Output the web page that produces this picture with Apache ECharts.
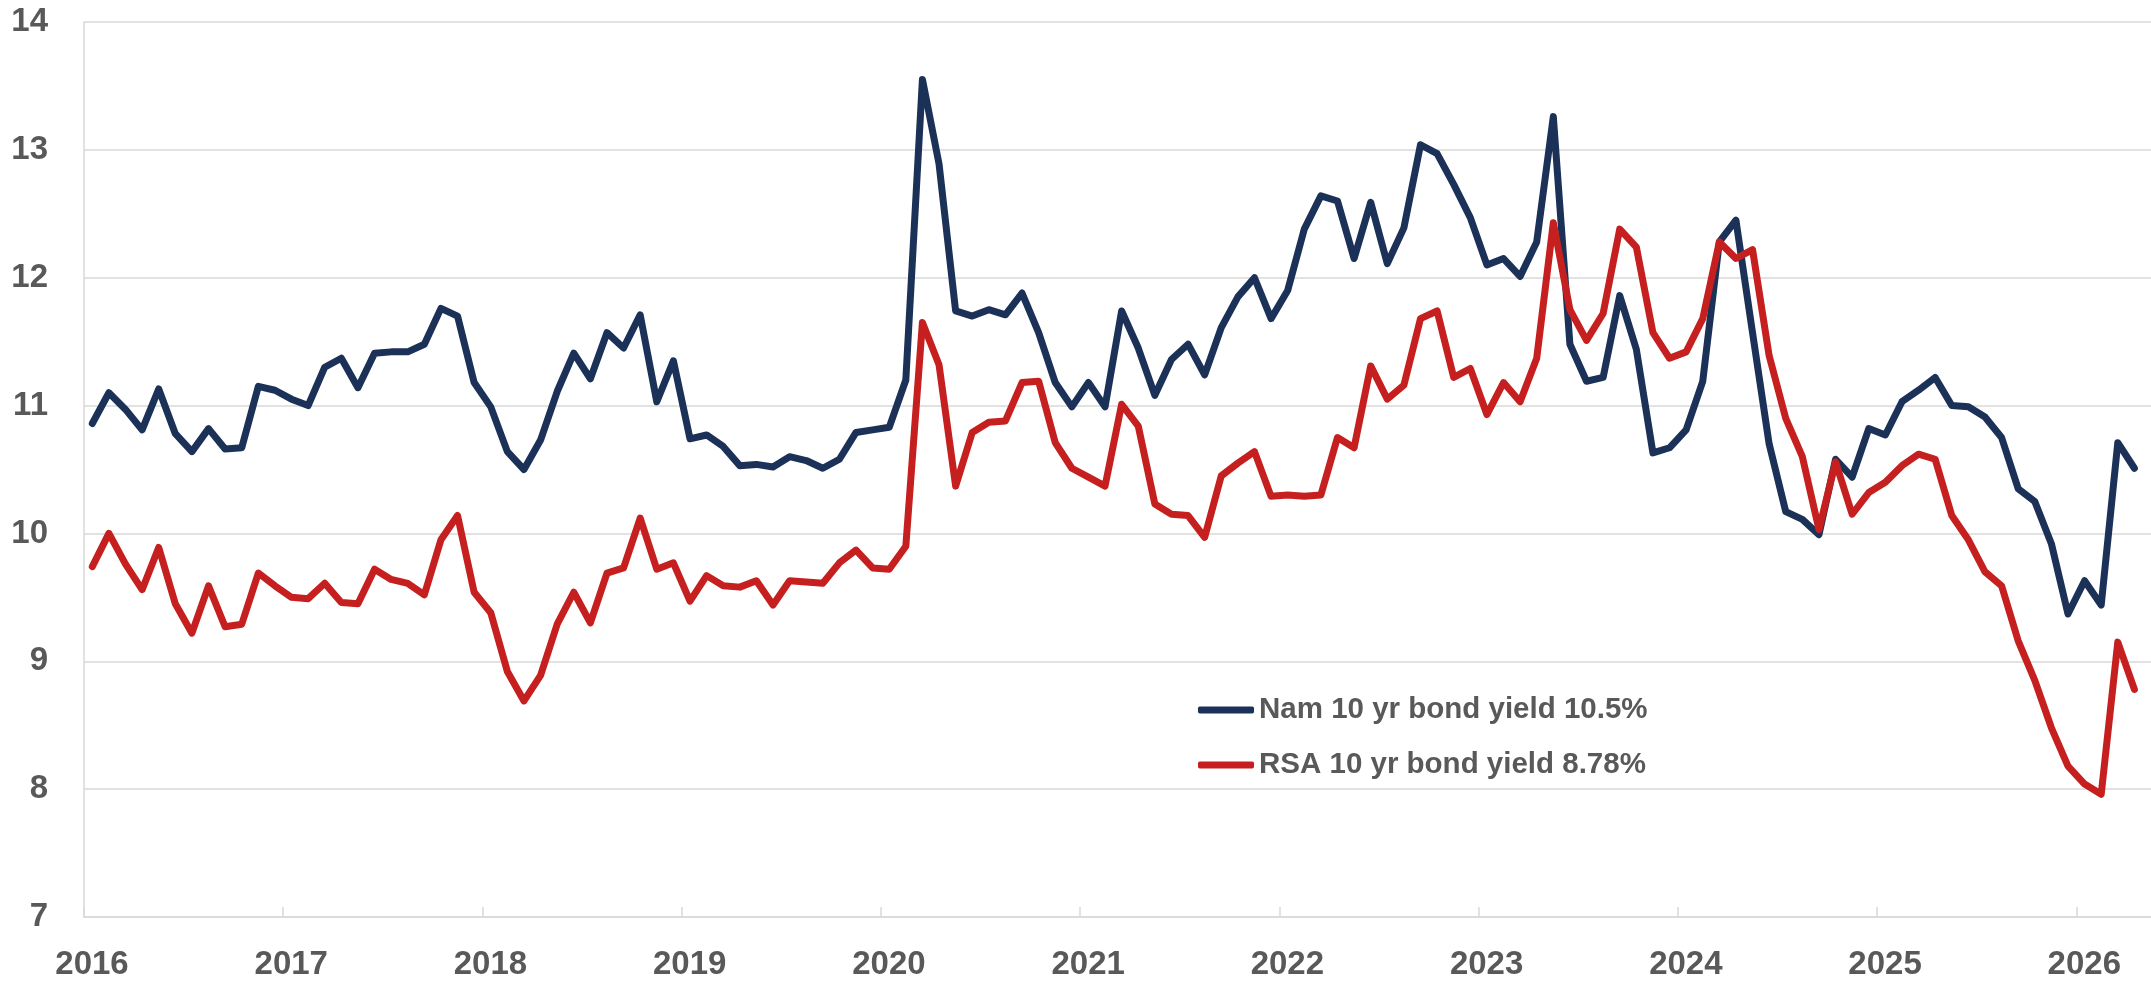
<!DOCTYPE html>
<html>
<head>
<meta charset="utf-8">
<title>Nam vs RSA 10 yr bond yield</title>
<script src="https://cdn.jsdelivr.net/npm/echarts@6/dist/echarts.min.js"></script>
<style>
  html, body { margin: 0; padding: 0; background: #fff; }
  #myCharts { width: 2151px; height: 982px; }
</style>
</head>
<body>
<div id="myCharts"></div>
<script>
// 年份刻度 (one label per January)
var years = ['2016', '2017', '2018', '2019', '2020', '2021', '2022', '2023', '2024', '2025', '2026']
// monthly yields, Jan 2016 .. Apr 2026
var namYield = [
  10.86, 11.10, 10.97, 10.81, 11.13, 10.78, 10.64, 10.82, 10.66, 10.67, 11.15, 11.12,
  11.05, 11.00, 11.30, 11.37, 11.14, 11.41, 11.42, 11.42, 11.48, 11.76, 11.70, 11.18,
  10.99, 10.64, 10.50, 10.73, 11.11, 11.41, 11.21, 11.57, 11.45, 11.71, 11.03, 11.35,
  10.74, 10.77, 10.68, 10.53, 10.54, 10.52, 10.60, 10.57, 10.51, 10.58, 10.79, 10.81,
  10.83, 11.20, 13.55, 12.89, 11.74, 11.70, 11.75, 11.71, 11.88, 11.57, 11.18, 10.99,
  11.18, 10.99, 11.74, 11.45, 11.08, 11.36, 11.48, 11.24, 11.61, 11.85, 12.00, 11.68,
  11.90, 12.38, 12.64, 12.60, 12.15, 12.59, 12.11, 12.39, 13.04, 12.97, 12.73, 12.47,
  12.10, 12.15, 12.01, 12.28, 13.26, 11.48, 11.19, 11.22, 11.86, 11.44, 10.63, 10.67,
  10.81, 11.19, 12.28, 12.45, 11.57, 10.70, 10.17, 10.11, 9.99, 10.58, 10.44, 10.82,
  10.77, 11.03, 11.12, 11.22, 11.00, 10.99, 10.91, 10.75, 10.35, 10.25, 9.92, 9.37,
  9.63, 9.44, 10.71, 10.51
]
var rsaYield = [
  9.74, 10.00, 9.76, 9.56, 9.89, 9.45, 9.22, 9.59, 9.27, 9.29, 9.69, 9.59,
  9.50, 9.49, 9.61, 9.46, 9.45, 9.72, 9.64, 9.61, 9.52, 9.95, 10.14, 9.54,
  9.38, 8.92, 8.69, 8.89, 9.29, 9.54, 9.30, 9.69, 9.73, 10.12, 9.72, 9.77,
  9.47, 9.67, 9.59, 9.58, 9.63, 9.44, 9.63, 9.62, 9.61, 9.77, 9.87, 9.73,
  9.72, 9.90, 11.65, 11.32, 10.37, 10.79, 10.87, 10.88, 11.18, 11.19, 10.71, 10.51,
  10.44, 10.37, 11.01, 10.84, 10.23, 10.15, 10.14, 9.97, 10.45, 10.55, 10.64, 10.29,
  10.30, 10.29, 10.30, 10.75, 10.67, 11.31, 11.05, 11.16, 11.68, 11.74, 11.22, 11.29,
  10.93, 11.18, 11.03, 11.37, 12.43, 11.75, 11.51, 11.72, 12.38, 12.24, 11.57, 11.37,
  11.42, 11.68, 12.28, 12.15, 12.22, 11.39, 10.90, 10.60, 10.03, 10.56, 10.15, 10.32,
  10.40, 10.53, 10.62, 10.58, 10.14, 9.95, 9.70, 9.59, 9.16, 8.85, 8.48, 8.18,
  8.04, 7.96, 9.15, 8.78
]
var seriesNames = ['Nam 10 yr bond yield 10.5%', 'RSA 10 yr bond yield 8.78%']

var fontFamily = '"Liberation Sans", Arial, sans-serif'
var textColor = '#595959'
var gridColor = '#d9d9d9'

// each month sits in the middle of its slot
function toPoints (arr) {
  return arr.map(function (v, i) { return [i + 0.5, v] })
}

var myCharts = echarts.init(document.getElementById('myCharts'))
var options = {
  animation: false,
  backgroundColor: '#ffffff',
  grid: {
    left: 84,
    right: 0,
    top: 22,
    bottom: 65
  },
  legend: {
    orient: 'vertical',
    left: 1198,
    top: 690,
    padding: 0,
    icon: 'roundRect',
    itemWidth: 56,
    itemHeight: 7,
    itemGap: 15,
    textStyle: {
      fontFamily: fontFamily,
      fontWeight: 'bold',
      fontSize: 29.5,
      lineHeight: 40,
      color: textColor
    },
    data: seriesNames
  },
  xAxis: {
    type: 'value',
    min: 0,
    max: 124.5,
    interval: 12,
    axisLine: { show: true, onZero: false, lineStyle: { color: gridColor, width: 1.5 } },
    axisTick: { show: true, inside: true, length: 10, lineStyle: { color: gridColor, width: 1.5 } },
    splitLine: { show: false },
    axisLabel: {
      margin: 31,
      padding: [0, 0, 0, 16],
      fontFamily: fontFamily,
      fontWeight: 'bold',
      fontSize: 33,
      color: textColor,
      showMaxLabel: false,
      formatter: function (v) {
        return v % 12 === 0 ? (years[v / 12] || '') : ''
      }
    }
  },
  yAxis: {
    type: 'value',
    min: 7,
    max: 14,
    interval: 1,
    axisLine: { show: true, lineStyle: { color: gridColor, width: 1.5 } },
    axisTick: { show: false },
    splitLine: { lineStyle: { color: gridColor, width: 1.5 } },
    axisLabel: {
      margin: 36,
      fontFamily: fontFamily,
      fontWeight: 'bold',
      fontSize: 33,
      color: textColor
    }
  },
  series: [
    {
      name: seriesNames[0],
      type: 'line',
      showSymbol: false,
      symbol: 'none',
      color: '#1b3158',
      lineStyle: { width: 7, color: '#1b3158', join: 'round', cap: 'round' },
      data: toPoints(namYield)
    },
    {
      name: seriesNames[1],
      type: 'line',
      showSymbol: false,
      symbol: 'none',
      color: '#c5201f',
      lineStyle: { width: 7, color: '#c5201f', join: 'round', cap: 'round' },
      data: toPoints(rsaYield)
    }
  ]
}
myCharts.setOption(options)
</script>
</body>
</html>
